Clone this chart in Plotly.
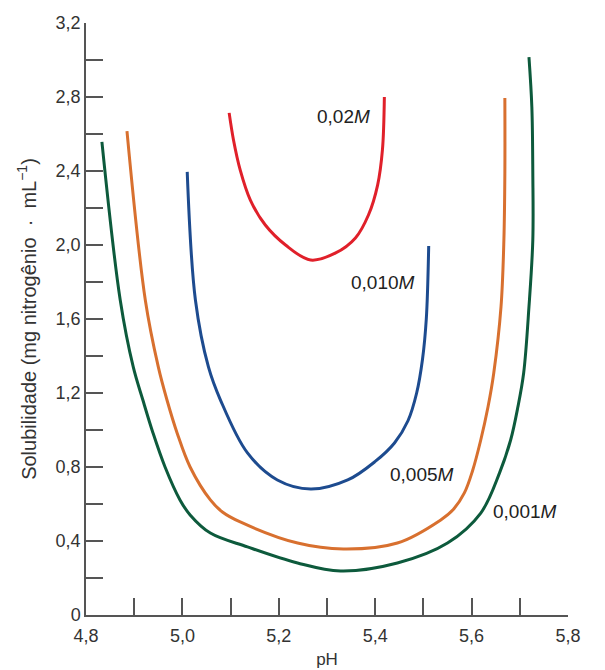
import plotly.graph_objects as go

# 0,001M (green)
ph_001 = [4.833, 4.871, 4.898, 4.918, 4.939, 4.964, 4.995, 5.016, 5.058, 5.135, 5.239, 5.328,
          5.446, 5.550, 5.619, 5.658, 5.681, 5.696, 5.708, 5.719, 5.727, 5.727, 5.725, 5.719]
sol_001 = [2.557, 1.703, 1.341, 1.162, 0.984, 0.800, 0.622, 0.541, 0.443, 0.368, 0.281, 0.238,
           0.281, 0.389, 0.551, 0.768, 0.946, 1.124, 1.308, 1.665, 2.027, 2.389, 2.746, 3.016]

# 0,005M (orange)
ph_005 = [4.885, 4.923, 4.950, 4.968, 4.989, 5.016, 5.058, 5.083, 5.120, 5.239, 5.334,
          5.446, 5.536, 5.562, 5.585, 5.602, 5.619, 5.634, 5.646, 5.661, 5.667, 5.669, 5.669]
sol_005 = [2.616, 1.703, 1.341, 1.162, 0.984, 0.800, 0.622, 0.557, 0.503, 0.389, 0.357,
           0.389, 0.514, 0.570, 0.660, 0.780, 0.946, 1.124, 1.308, 1.665, 2.027, 2.389, 2.795]

# 0,010M (blue)
ph_010 = [5.010, 5.027, 5.054, 5.079, 5.135, 5.197, 5.266, 5.343, 5.400, 5.440, 5.468, 5.486, 5.498, 5.506, 5.511]
sol_010 = [2.395, 1.703, 1.341, 1.162, 0.876, 0.730, 0.681, 0.730, 0.830, 0.930, 1.050, 1.200, 1.380, 1.600, 1.995]

# 0,02M (red)
ph_02 = [5.097, 5.106, 5.120, 5.141, 5.172, 5.214, 5.266, 5.318, 5.359, 5.386, 5.405, 5.415, 5.419]
sol_02 = [2.714, 2.568, 2.405, 2.243, 2.108, 2.000, 1.919, 1.957, 2.038, 2.162, 2.324, 2.514, 2.800]

labels = ["0,02<i>M</i>", "0,010<i>M</i>", "0,005<i>M</i>", "0,001<i>M</i>"]
label_x = [5.334, 5.417, 5.498, 5.711]
label_y = [2.692, 1.795, 0.757, 0.557]

x_tickvals = [4.8, 4.9, 5.0, 5.1, 5.2, 5.3, 5.4, 5.5, 5.6, 5.7, 5.8]
x_ticktext = ["4,8", "", "5,0", "", "5,2", "", "5,4", "", "5,6", "", "5,8"]
y_tickvals = [0, 0.2, 0.4, 0.6, 0.8, 1.0, 1.2, 1.4, 1.6, 1.8, 2.0, 2.2, 2.4, 2.6, 2.8, 3.0, 3.2]
y_ticktext = ["0", "", "0,4", "", "0,8", "", "1,2", "", "1,6", "", "2,0", "", "2,4", "", "2,8", "", "3,2"]

series = [
    (ph_001, sol_001, "#0d5a3c"),
    (ph_005, sol_005, "#d8702f"),
    (ph_010, sol_010, "#1d4b8f"),
    (ph_02, sol_02, "#e0202a"),
]

FONT = "Liberation Sans, Arial, sans-serif"

fig = go.Figure()
for xs, ys, c in series:
    fig.add_trace(go.Scatter(x=xs, y=ys, mode="lines",
                             line=dict(color=c, width=3, shape="spline", smoothing=1.0),
                             showlegend=False, hoverinfo="skip"))

for t, lx, ly in zip(labels, label_x, label_y):
    fig.add_annotation(x=lx, y=ly, xref="x", yref="y", text=t, showarrow=False,
                       font=dict(size=19, color="#222222", family=FONT))

axis_common = dict(showgrid=False, zeroline=False, showline=True, linecolor="#555555", linewidth=1.5,
                   ticks="inside", ticklen=17, tickwidth=1.5, tickcolor="#555555", automargin=False,
                   tickfont=dict(size=18, color="#333333", family=FONT))

fig.update_xaxes(range=[4.8, 5.8], tickvals=x_tickvals, ticktext=x_ticktext, ticklabelstandoff=4,
                 title=dict(text="pH", font=dict(size=17, color="#333333", family=FONT),
                            standoff=8),
                 **axis_common)
fig.update_yaxes(range=[0, 3.2], tickvals=y_tickvals, ticktext=y_ticktext,
                 title=dict(text="Solubilidade (mg nitrogênio  ·  mL<sup>−1</sup>)",
                            font=dict(size=20, color="#333333", family=FONT),
                            standoff=14),
                 **axis_common)

fig.update_layout(width=605, height=670, margin=dict(l=86, r=37, t=23, b=55),
                  plot_bgcolor="white", paper_bgcolor="white")

fig.write_html("out.html", config={"displayModeBar": False},
               post_script="document.body.style.margin='0';")
